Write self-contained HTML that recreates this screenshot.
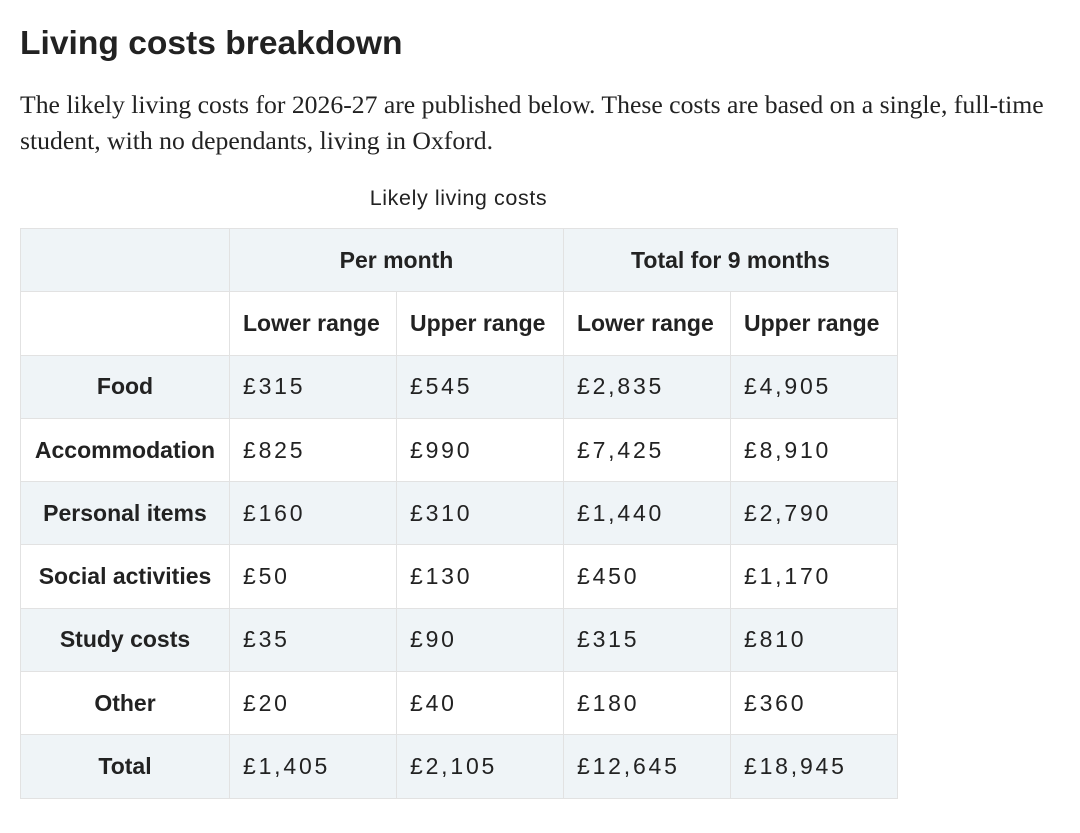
<!DOCTYPE html>
<html><head><meta charset="utf-8"><style>
body{margin:0;background:#fff;color:#222;width:1080px;height:833px;overflow:hidden;position:relative;font-family:"Liberation Sans",sans-serif}
h1{position:absolute;left:20px;top:22px;margin:0;font-size:33.6px;font-weight:bold;line-height:44px}
p{position:absolute;left:20px;top:87px;margin:0;width:1055px;font-family:"Liberation Serif",serif;font-size:25.7px;line-height:36px}
.cap{position:absolute;left:20px;width:877px;top:185px;text-align:center;font-size:21.5px;letter-spacing:0.6px;line-height:26px}
table{position:absolute;left:20px;top:228px;border-collapse:collapse;table-layout:fixed}
td,th{border:1px solid #e2e2e2;height:62.3px;padding:0;font-size:23px}
th{font-weight:bold;text-align:center}
td{text-align:left;padding-left:13px;letter-spacing:2.8px}
.g{background:#eff4f7}
.sub th{text-align:left;padding-left:13px}
</style></head><body>
<h1>Living costs breakdown</h1>
<p>The likely living costs for 2026-27 are published below. These costs are based on a single, full-time student, with no dependants, living in Oxford.</p>
<div class="cap">Likely living costs</div>
<table>
<colgroup><col style="width:209px"><col style="width:167px"><col style="width:167px"><col style="width:167px"><col style="width:167px"></colgroup>
<tr class="g"><th></th><th colspan="2">Per month</th><th colspan="2">Total for 9 months</th></tr>
<tr class="sub"><th></th><th>Lower range</th><th>Upper range</th><th>Lower range</th><th>Upper range</th></tr>
<tr class="g"><th>Food</th><td>£315</td><td>£545</td><td>£2,835</td><td>£4,905</td></tr>
<tr><th>Accommodation</th><td>£825</td><td>£990</td><td>£7,425</td><td>£8,910</td></tr>
<tr class="g"><th>Personal items</th><td>£160</td><td>£310</td><td>£1,440</td><td>£2,790</td></tr>
<tr><th>Social activities</th><td>£50</td><td>£130</td><td>£450</td><td>£1,170</td></tr>
<tr class="g"><th>Study costs</th><td>£35</td><td>£90</td><td>£315</td><td>£810</td></tr>
<tr><th>Other</th><td>£20</td><td>£40</td><td>£180</td><td>£360</td></tr>
<tr class="g"><th>Total</th><td>£1,405</td><td>£2,105</td><td>£12,645</td><td>£18,945</td></tr>
</table>
</body></html>
